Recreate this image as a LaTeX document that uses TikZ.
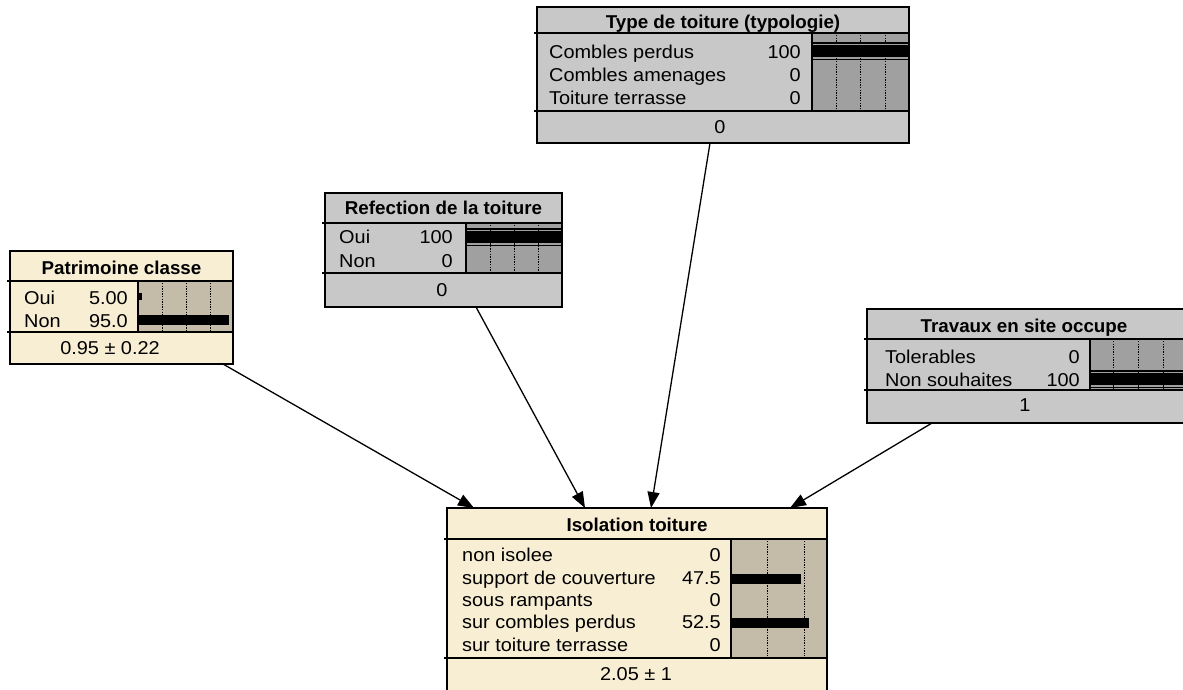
\documentclass[tikz,border=0pt]{standalone}
\usepackage{fontspec}
\setmainfont{Liberation Sans}[FakeStretch=1.07]
\newfontfamily\boldfam{Liberation Sans}[FakeStretch=1.01]
\usetikzlibrary{arrows.meta}
\definecolor{cream}{HTML}{F8EED4}
\definecolor{tanbar}{HTML}{C4BCA8}
\definecolor{lgray}{HTML}{C8C8C8}
\definecolor{dgray}{HTML}{A0A0A0}
\begin{document}
\begin{tikzpicture}[x=1pt,y=-1pt,
  nbox/.style={draw=black, line width=2.4pt, inner sep=0pt, outer sep=0pt, anchor=north west},
  boxline/.style={draw=black, line width=2.4pt},
  sepl/.style={line width=1.4pt},
  barline/.style={draw=black, line width=2pt},
  gridl/.style={line width=0.9pt, dash pattern=on 1.3pt off 1.3pt},
  ttl/.style={font=\boldfam\fontsize{18.6}{21}\selectfont\bfseries, inner sep=0pt, anchor=base},
  lbl/.style={font=\fontsize{18.6}{21}\selectfont, inner sep=0pt, anchor=base west},
  val/.style={font=\fontsize{18.6}{21}\selectfont, inner sep=0pt, anchor=base east},
  foot/.style={font=\fontsize{18.6}{21}\selectfont, inner sep=0pt, anchor=base},
  arr/.style={line width=1.3pt, -{Triangle[length=16pt,width=12pt]}}
]
\useasboundingbox (0,0) rectangle (1183,689);
\clip (0,0) rectangle (1183,689);
\fill[white] (0,0) rectangle (1183,689);

% ---------- Patrimoine classe ----------
\node[nbox, fill=cream, minimum width=223pt, minimum height=113pt] (pat) at (10,251) {};
\fill[tanbar] (138,281) rectangle (233,332);
\foreach \x in {162,186,210} \draw[gridl] (\x,283) -- (\x,330);
\fill[black] (138,293) rectangle (142,300);
\fill[black] (138,315) rectangle (229,325);
\draw[barline] (138,281) rectangle (233,332);
\draw[sepl] (7,281) -- (233,281);
\draw[sepl] (7,332) -- (233,332);
\draw[boxline] (pat.north west) rectangle (pat.south east);
\node[ttl] (patT) at (121.5,274) {Patrimoine classe};
\node[lbl] (patL1) at (24,304) {Oui};
\node[val] (patV1) at (128,304) {5.00};
\node[lbl] (patL2) at (24,327) {Non};
\node[val] (patV2) at (128,327) {95.0};
\node[foot] (patF) at (110,354) {0.95 ± 0.22};

% ---------- Refection de la toiture ----------
\node[nbox, fill=lgray, minimum width=237pt, minimum height=114pt] (ref) at (325,193) {};
\fill[dgray] (466,223) rectangle (562,273);
\foreach \x in {490,514,538} \draw[gridl] (\x,225) -- (\x,271);
\fill[black] (466,231) rectangle (562,243);
\fill[black] (466,228.3) rectangle (562,229.5);
\fill[black] (466,245) rectangle (562,246.4);
\draw[barline] (466,223) rectangle (562,273);
\draw[sepl] (322,223) -- (562,223);
\draw[sepl] (322,273) -- (562,273);
\draw[boxline] (ref.north west) rectangle (ref.south east);
\node[ttl] (refT) at (443.5,214) {Refection de la toiture};
\node[lbl] (refL1) at (339,243) {Oui};
\node[val] (refV1) at (453,243) {100};
\node[lbl] (refL2) at (339,267) {Non};
\node[val] (refV2) at (453,267) {0};
\node[foot] (refF) at (442,296) {0};

% ---------- Type de toiture (typologie) ----------
\node[nbox, fill=lgray, minimum width=372pt, minimum height=136pt] (typ) at (537,7) {};
\fill[dgray] (812,33) rectangle (909,111);
\foreach \x in {836,860,885} \draw[gridl] (\x,35) -- (\x,109);
\fill[black] (812,45) rectangle (909,57);
\fill[black] (812,42.3) rectangle (909,43.6);
\fill[black] (812,59) rectangle (909,60.4);
\draw[barline] (812,33) rectangle (909,111);
\draw[sepl] (534,33) -- (909,33);
\draw[sepl] (534,111) -- (909,111);
\draw[boxline] (typ.north west) rectangle (typ.south east);
\node[ttl] (typT) at (723,28) {Type de toiture (typologie)};
\node[lbl] (typL1) at (549,58) {Combles perdus};
\node[val] (typV1) at (801,58) {100};
\node[lbl] (typL2) at (549,81) {Combles amenages};
\node[val] (typV2) at (801,81) {0};
\node[lbl] (typL3) at (549,104) {Toiture terrasse};
\node[val] (typV3) at (801,104) {0};
\node[foot] (typF) at (720,133) {0};

% ---------- Travaux en site occupe ----------
\node[nbox, fill=lgray, minimum width=323pt, minimum height=114pt] (trav) at (867,309) {};
\fill[dgray] (1090,339) rectangle (1190,390);
\foreach \x in {1113,1138,1163} \draw[gridl] (\x,341) -- (\x,388);
\fill[black] (1090,373) rectangle (1190,385);
\fill[black] (1090,370.3) rectangle (1190,371.6);
\fill[black] (1090,387) rectangle (1190,388.4);
\draw[barline] (1090,339) rectangle (1190,390);
\draw[sepl] (864,339) -- (1190,339);
\draw[sepl] (864,390) -- (1190,390);
\draw[boxline] (trav.north west) rectangle (trav.south east);
\node[ttl] (travT) at (1024,332) {Travaux en site occupe};
\node[lbl] (travL1) at (885,363) {Tolerables};
\node[val] (travV1) at (1080,363) {0};
\node[lbl] (travL2) at (885,386) {Non souhaites};
\node[val] (travV2) at (1080,386) {100};
\node[foot] (travF) at (1025,411) {1};

% ---------- Isolation toiture ----------
\node[nbox, fill=cream, minimum width=380pt, minimum height=200pt] (iso) at (447,508) {};
\fill[tanbar] (731,539) rectangle (827,658);
\foreach \x in {767,804} \draw[gridl] (\x,541) -- (\x,656);
\fill[black] (731,574) rectangle (801,584);
\fill[black] (731,618) rectangle (809,628);
\draw[barline] (731,539) rectangle (827,658);
\draw[sepl] (444,539) -- (827,539);
\draw[sepl] (444,658) -- (827,658);
\draw[boxline] (iso.north west) rectangle (iso.south east);
\node[ttl] (isoT) at (637,531) {Isolation toiture};
\node[lbl] (isoL1) at (462,561) {non isolee};
\node[val] (isoV1) at (721,561) {0};
\node[lbl] (isoL2) at (462,584) {support de couverture};
\node[val] (isoV2) at (721,584) {47.5};
\node[lbl] (isoL3) at (462,606) {sous rampants};
\node[val] (isoV3) at (721,606) {0};
\node[lbl] (isoL4) at (462,628) {sur combles perdus};
\node[val] (isoV4) at (721,628) {52.5};
\node[lbl] (isoL5) at (462,651) {sur toiture terrasse};
\node[val] (isoV5) at (721,651) {0};
\node[foot] (isoF) at (636,680) {2.05 ± 1};

% ---------- Connectors ----------
\draw[arr] ([xshift=-10pt]pat.south east) -- ([xshift=27pt]iso.north west);
\draw[arr] ([xshift=32.5pt]ref.south) -- ([xshift=138pt]iso.north west);
\draw[arr] ([xshift=-13pt]typ.south) -- ([xshift=204pt]iso.north west);
\draw[arr] ([xshift=65pt]trav.south west) -- ([xshift=343pt]iso.north west);
\end{tikzpicture}
\end{document}
